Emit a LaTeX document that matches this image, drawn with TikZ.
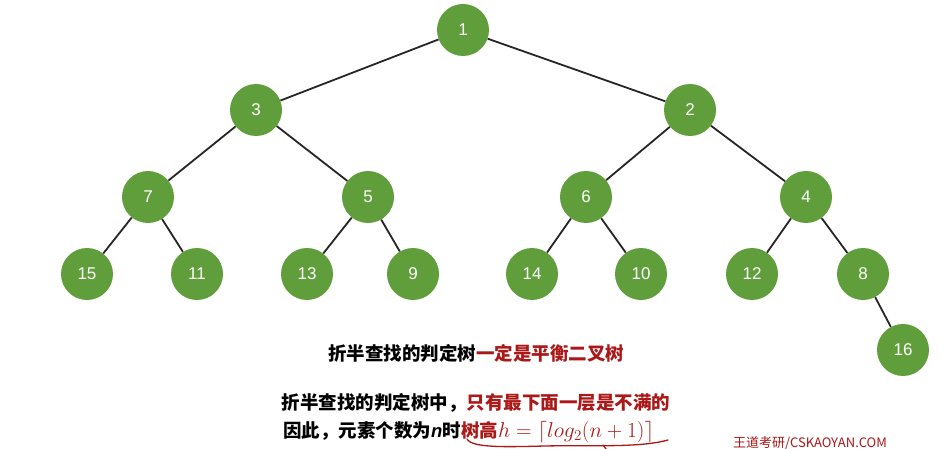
\RequirePackage{fix-cm}
\documentclass[tikz,border=0pt]{standalone}
\usepackage{fontspec}
\setmainfont{Liberation Serif}
\newfontfamily\zahlfont{Liberation Sans}
\newfontfamily\cjk{Noto Sans CJK SC}
\definecolor{gruen}{RGB}{96,158,60}
\definecolor{rot}{RGB}{170,24,24}
\begin{document}
\begin{tikzpicture}[x=1pt, y=-1pt,
    knoten/.style={circle, fill=gruen, minimum size=52pt, inner sep=0pt,
        text=white, font=\zahlfont\fontsize{17}{17}\selectfont},
    kante/.style={line width=1.8pt, black!85},
    zeile/.style={font=\cjk\bfseries\fontsize{18.5}{20}\selectfont, inner sep=0pt}]
    \useasboundingbox (0,0) rectangle (943,449);
    \fill[white] (0,0) rectangle (943,449);

    % Ebene 0 und 1
    \node[knoten] (n1) at (463,30) {1};
    \node[knoten] (n3) at (256,110) {3};
    \node[knoten] (n2) at (690,110) {2};

    % Ebene 2
    \node[knoten] (n7) at (148,197) {7};
    \node[knoten] (n5) at (368,197) {5};
    \node[knoten] (n6) at (586,197) {6};
    \node[knoten] (n4) at (806,197) {4};

    % Ebene 3
    \node[knoten] (n15) at (87,274) {15};
    \node[knoten] (n11) at (197,274) {11};
    \node[knoten] (n13) at (307,274) {13};
    \node[knoten] (n9) at (413,274) {9};
    \node[knoten] (n14) at (532,274) {14};
    \node[knoten] (n10) at (641,274) {10};
    \node[knoten] (n12) at (752,274) {12};
    \node[knoten] (n8) at (863,274) {8};

    % Ebene 4
    \node[knoten] (n16) at (903,350) {16};

    % Kanten
    \draw[kante] (n1) -- (n3);
    \draw[kante] (n1) -- (n2);
    \draw[kante] (n3) -- (n7);
    \draw[kante] (n3) -- (n5);
    \draw[kante] (n2) -- (n6);
    \draw[kante] (n2) -- (n4);
    \draw[kante] (n7) -- (n15);
    \draw[kante] (n7) -- (n11);
    \draw[kante] (n5) -- (n13);
    \draw[kante] (n5) -- (n9);
    \draw[kante] (n6) -- (n14);
    \draw[kante] (n6) -- (n10);
    \draw[kante] (n4) -- (n12);
    \draw[kante] (n4) -- (n8);
    \draw[kante] (n8) -- (n16);

    % Text unten
    \node[zeile] (t1) at (476,353) {折半查找的判定树\textcolor{rot}{一定是平衡二叉树}};
    \node[zeile] (t2) at (476,403) {折半查找的判定树中，\textcolor{rot}{只有最下面一层是不满的}};
    \node[zeile, anchor=base west] (t3) at (283,437) {因此，元素个数为{\zahlfont\bfseries\itshape n}时\textcolor{rot}{树高{\fontsize{21.5}{22}\selectfont$h=\lceil log_2(n+1)\rceil$}}};

    % Unterstreichung
    \draw[rot, line width=1.3pt, line cap=round] (467,439) .. controls (472,448) and (505,447) .. (545,446)
        .. controls (590,445) and (640,448) .. (668,440);
    \draw[rot, line width=1.3pt, line cap=round] (603,445) -- (606,449);

    % Wasserzeichen
    \node[anchor=base west, inner sep=0pt, text=rot, font=\cjk\fontsize{13}{13}\selectfont] (wz) at (733,447) {王道考研/CSKAOYAN.COM};
\end{tikzpicture}
\end{document}
